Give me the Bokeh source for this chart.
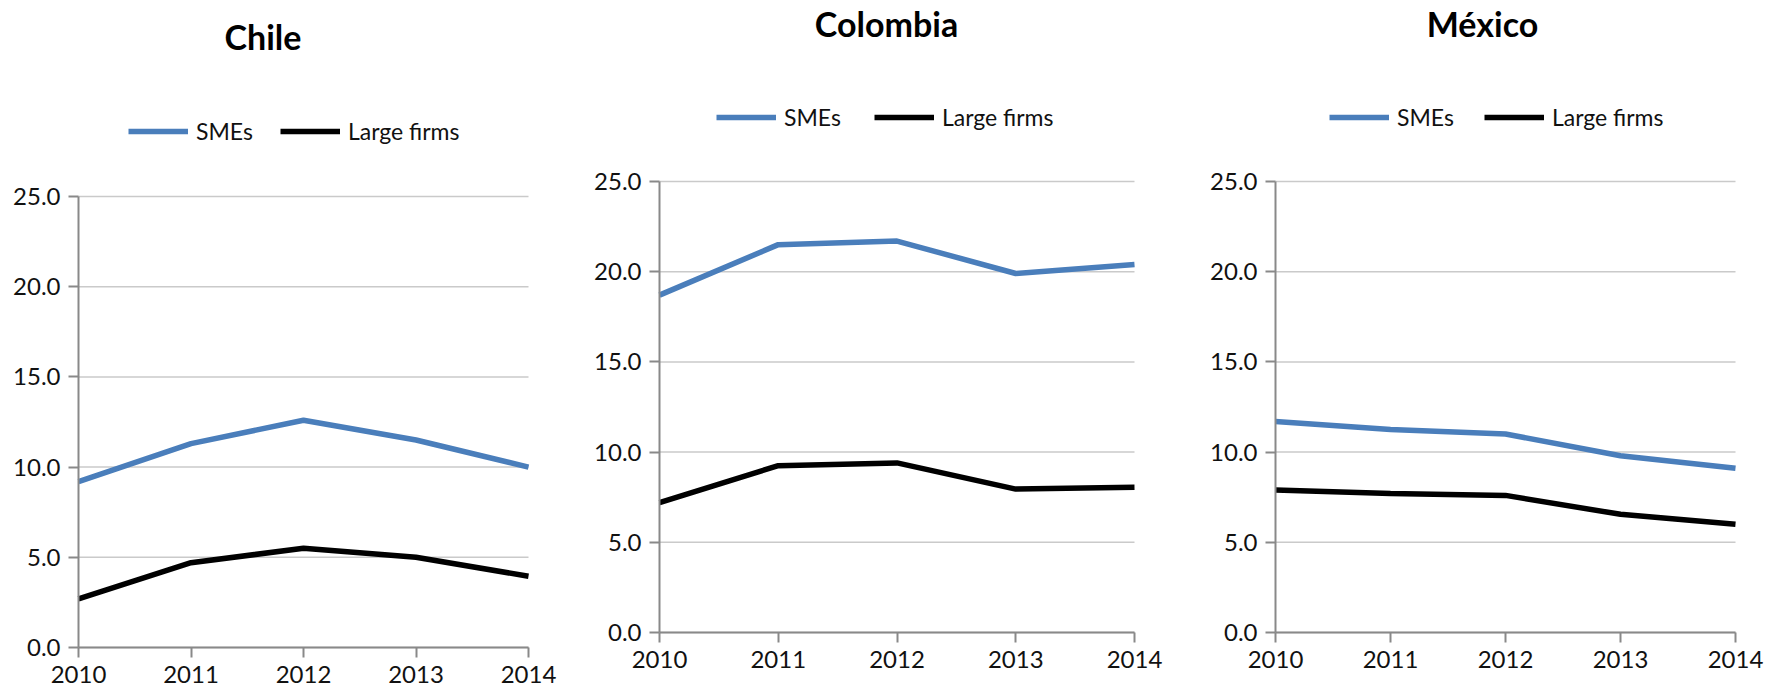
from bokeh.plotting import figure
from bokeh.models import Range1d, FixedTicker, NumeralTickFormatter, Legend, LegendItem, Label
from bokeh.layouts import row
from bokeh.embed import file_html
from bokeh.resources import INLINE

# ---------------- data ----------------
years = [2010, 2011, 2012, 2013, 2014]
y_ticks = [0, 5, 10, 15, 20, 25]
series_names = ["SMEs", "Large firms"]
countries = ["Chile", "Colombia", "México"]

chile_smes = [9.2, 11.3, 12.6, 11.5, 10.0]
chile_large = [2.7, 4.7, 5.5, 5.0, 3.95]

colombia_smes = [18.7, 21.5, 21.7, 19.9, 20.4]
colombia_large = [7.2, 9.25, 9.4, 7.95, 8.05]

mexico_smes = [11.7, 11.25, 11.0, 9.8, 9.1]
mexico_large = [7.9, 7.7, 7.6, 6.55, 6.0]

# ---------------- style / layout ----------------
FONT = "Lato"
BLUE = "#4a7ebb"
BLACK = "#000000"
AXIS_GRAY = "#898989"
GRID_GRAY = "#cacaca"
FIG_H = 688          # frame spans the whole figure
PX_PER_UNIT = 18.04  # 451 px for 25 units

panels = [
    # name, smes, large, px left of 2010, plot width, px right of 2014,
    # px of y=25, px of y=0, legend (x from fig left, y from bottom), legend spacing, title centre (page px)
    (countries[0], chile_smes, chile_large, 78, 450, 40, 196, 647, (128, 543), 27, (262.5, 36.3)),
    (countries[1], colombia_smes, colombia_large, 91, 475, 40, 181, 632, (148, 557), 33, (886, 23)),
    (countries[2], mexico_smes, mexico_large, 101, 460, 36, 181, 632, (155, 557), 30, (1482, 23)),
]

figs = []
x0 = 0
for name, smes, large, bl, pw, br, top25, bottom0, leg_xy, leg_sp, title_px in panels:
    px_per_year = pw / (years[-1] - years[0])
    x_start = years[0] - bl / px_per_year
    x_end = years[-1] + br / px_per_year
    y_top = y_ticks[-1] + top25 / PX_PER_UNIT
    y_bot = -(FIG_H - bottom0) / PX_PER_UNIT
    fig_w = bl + pw + br
    p = figure(frame_width=fig_w, frame_height=FIG_H,
               x_range=Range1d(x_start, x_end), y_range=Range1d(y_bot, y_top),
               min_border_left=0, min_border_right=0, min_border_top=0, min_border_bottom=0,
               output_backend="svg", toolbar_location=None)
    p.outline_line_color = None
    p.background_fill_color = "white"
    p.border_fill_color = "white"
    p.xgrid.visible = False
    p.ygrid.visible = False

    # horizontal gridlines spanning only the plotted years
    p.segment(x0=[years[0]] * len(y_ticks), y0=y_ticks,
              x1=[years[-1]] * len(y_ticks), y1=y_ticks,
              line_color=GRID_GRAY, line_width=1.5)

    p.xaxis.ticker = FixedTicker(ticks=years)
    p.xaxis.fixed_location = y_ticks[0]
    p.xaxis.bounds = (years[0], years[-1])
    p.yaxis.ticker = FixedTicker(ticks=y_ticks)
    p.yaxis.fixed_location = years[0]
    p.yaxis.bounds = (y_ticks[0], y_ticks[-1])
    p.yaxis.formatter = NumeralTickFormatter(format="0.0")
    for ax in (p.xaxis, p.yaxis):
        ax.axis_line_color = AXIS_GRAY
        ax.axis_line_width = 2
        ax.major_tick_line_color = AXIS_GRAY
        ax.major_tick_line_width = 2
        ax.major_tick_out = 10
        ax.major_tick_in = 0
        ax.minor_tick_line_color = None
        ax.major_label_text_font = FONT
        ax.major_label_text_font_size = "24px"
        ax.major_label_text_color = "#111111"
    p.xaxis.major_label_standoff = 8
    p.yaxis.major_label_standoff = 8

    r1 = p.line(years, smes, line_color=BLUE, line_width=5.5)
    r2 = p.line(years, large, line_color=BLACK, line_width=5.5)

    legend = Legend(items=[LegendItem(label=series_names[0], renderers=[r1]),
                           LegendItem(label=series_names[1], renderers=[r2])],
                    orientation="horizontal", location=leg_xy,
                    padding=0, margin=0, spacing=leg_sp,
                    glyph_width=60, glyph_height=28, label_height=28, label_standoff=8,
                    label_text_font=FONT, label_text_font_size="23px",
                    label_text_color="#111111",
                    border_line_color=None, background_fill_alpha=0)
    p.add_layout(legend)

    # title centre given in page pixels, converted to data coordinates
    tx = years[0] + (title_px[0] - (x0 + bl)) / px_per_year
    ty = y_ticks[-1] + (top25 - title_px[1]) / PX_PER_UNIT
    p.add_layout(Label(x=tx, y=ty, text=name,
                       text_font=FONT, text_font_style="bold", text_font_size="34px",
                       text_align="center", text_baseline="middle", text_color="#000000"))
    figs.append(p)
    x0 += fig_w

layout = row(*figs)
open("out.html", "w").write(file_html(layout, INLINE))
